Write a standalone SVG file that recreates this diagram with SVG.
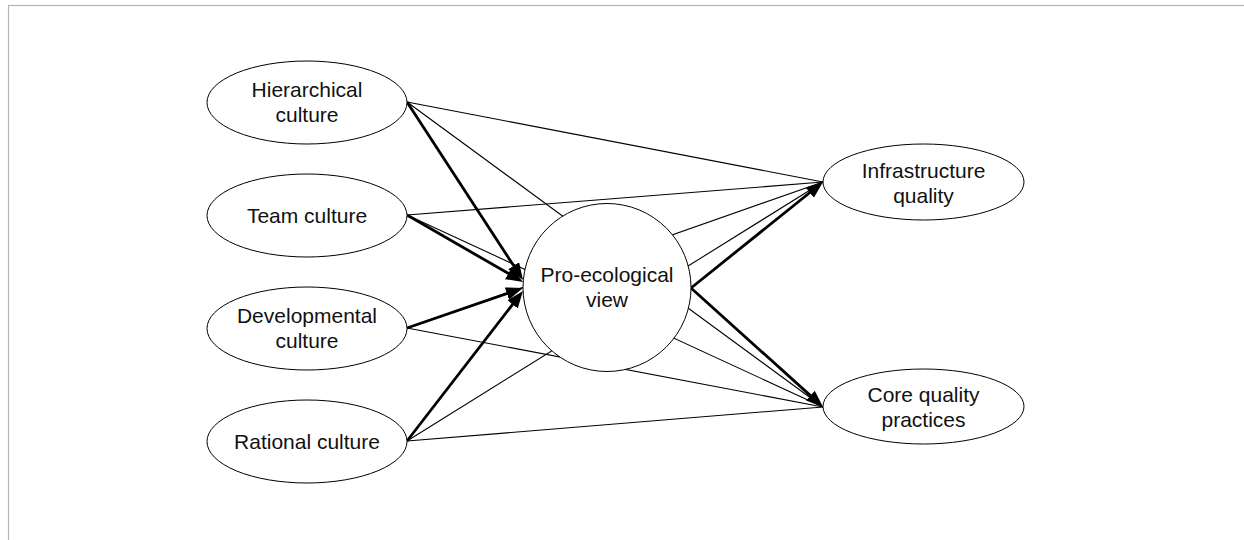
<svg xmlns="http://www.w3.org/2000/svg" width="1244" height="540" viewBox="0 0 1244 540">
<style>
.node ellipse, .node circle { fill: #ffffff; stroke: #000000; stroke-width: 1; }
.node text { font-family: "Liberation Sans", Arial, sans-serif; font-size: 21px; fill: #111111; text-anchor: middle; }
.thin { stroke: #000000; stroke-width: 1.1; fill: none; }
.thick { stroke: #000000; stroke-width: 2.8; fill: none; marker-end: url(#arrow); }
</style>
<defs>
<marker id="arrow" markerUnits="userSpaceOnUse" markerWidth="18" markerHeight="14" refX="9" refY="6.5" orient="auto">
<path d="M0,0 L17,6.5 L0,13 Z" fill="#000000"/>
</marker>
</defs>
<rect x="8.5" y="5.5" width="1300" height="600" fill="#ffffff" stroke="#b4b4b4" stroke-width="1.2"/>
<g id="connectors">
<line class="thin" x1="407" y1="102" x2="823" y2="182"/>
<line class="thin" x1="407" y1="102" x2="823" y2="407"/>
<line class="thin" x1="407" y1="215" x2="823" y2="182"/>
<line class="thin" x1="407" y1="215" x2="823" y2="407"/>
<line class="thin" x1="407" y1="328" x2="823" y2="182"/>
<line class="thin" x1="407" y1="328" x2="823" y2="407"/>
<line class="thin" x1="407" y1="441" x2="823" y2="182"/>
<line class="thin" x1="407" y1="441" x2="823" y2="407"/>
<line class="thick" x1="407" y1="102" x2="518.6" y2="273.3"/>
<line class="thick" x1="407" y1="215" x2="516.1" y2="278"/>
<line class="thick" x1="407" y1="328" x2="515.4" y2="290.6"/>
<line class="thick" x1="407" y1="441" x2="518.1" y2="297.3"/>
<line class="thick" x1="691" y1="288" x2="816.8" y2="187"/>
<line class="thick" x1="691" y1="288" x2="817.1" y2="401.6"/>
</g>
<g id="hierarchical" class="node">
<ellipse cx="307" cy="102.5" rx="100" ry="41.5"/>
<text x="307" y="97">Hierarchical</text>
<text x="307" y="122">culture</text>
</g>
<g id="team" class="node">
<ellipse cx="307" cy="215.5" rx="100" ry="41.5"/>
<text x="307" y="223">Team culture</text>
</g>
<g id="developmental" class="node">
<ellipse cx="307" cy="328.5" rx="100" ry="41.5"/>
<text x="307" y="323">Developmental</text>
<text x="307" y="348">culture</text>
</g>
<g id="rational" class="node">
<ellipse cx="307" cy="441.5" rx="100" ry="41.5"/>
<text x="307" y="449">Rational culture</text>
</g>
<g id="proecological" class="node">
<circle cx="607" cy="287.5" r="84"/>
<text x="607" y="282">Pro-ecological</text>
<text x="607" y="307">view</text>
</g>
<g id="infrastructure" class="node">
<ellipse cx="923.5" cy="182" rx="100.5" ry="38"/>
<text x="923.5" y="178">Infrastructure</text>
<text x="923.5" y="203">quality</text>
</g>
<g id="core" class="node">
<ellipse cx="923.5" cy="406.5" rx="100.5" ry="37.5"/>
<text x="923.5" y="402">Core quality</text>
<text x="923.5" y="427">practices</text>
</g>
</svg>
